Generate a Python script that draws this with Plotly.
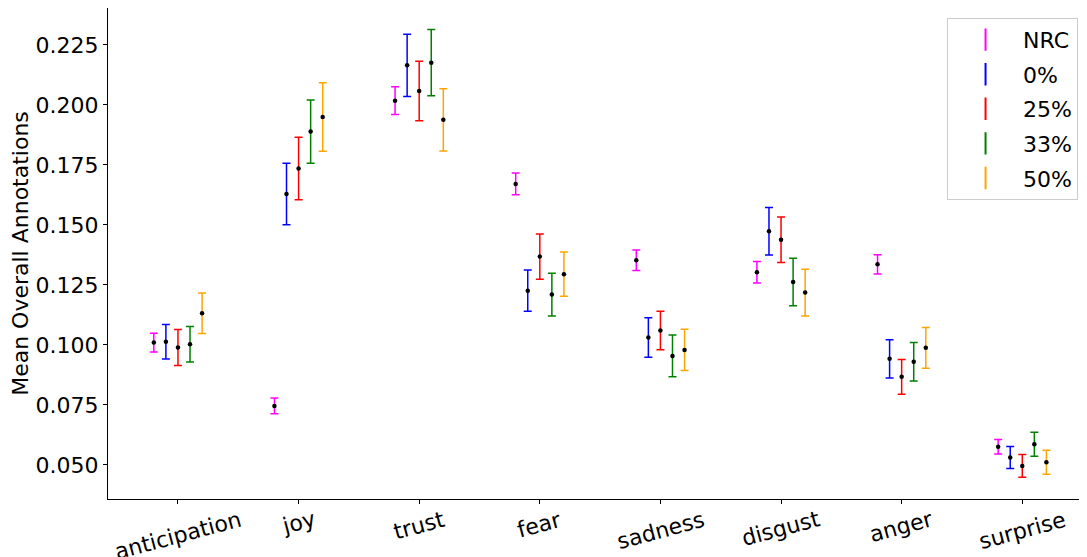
import plotly.graph_objects as go

categories = ["anticipation", "joy", "trust", "fear", "sadness", "disgust", "anger", "surprise"]
series_names = ["NRC", "0%", "25%", "33%", "50%"]

nrc_mean = [0.1010, 0.0746, 0.2018, 0.1671, 0.1353, 0.1303, 0.1336, 0.0576]
nrc_err = [0.0039, 0.0033, 0.0058, 0.0045, 0.0043, 0.0045, 0.0040, 0.0030]

p0_mean = [0.1013, 0.1629, 0.2165, 0.1226, 0.1031, 0.1474, 0.0942, 0.0531]
p0_err = [0.0072, 0.0128, 0.0130, 0.0086, 0.0082, 0.0099, 0.0080, 0.0046]

p25_mean = [0.0989, 0.1735, 0.2058, 0.1368, 0.1060, 0.1438, 0.0867, 0.0496]
p25_err = [0.0075, 0.0130, 0.0124, 0.0094, 0.0080, 0.0095, 0.0072, 0.0047]

p33_mean = [0.1003, 0.1889, 0.2176, 0.1210, 0.0954, 0.1262, 0.0930, 0.0586]
p33_err = [0.0074, 0.0132, 0.0138, 0.0089, 0.0087, 0.0099, 0.0080, 0.0050]

p50_mean = [0.1132, 0.1950, 0.1938, 0.1295, 0.0979, 0.1218, 0.0988, 0.0511]
p50_err = [0.0084, 0.0143, 0.0130, 0.0092, 0.0086, 0.0097, 0.0085, 0.0050]

means = [nrc_mean, p0_mean, p25_mean, p33_mean, p50_mean]
errs = [nrc_err, p0_err, p25_err, p33_err, p50_err]
colors = ["magenta", "blue", "red", "green", "orange"]

FONT = "DejaVu Sans"

fig = go.Figure()
for i, (name, m, e, c) in enumerate(zip(series_names, means, errs, colors)):
    off = (i - 2) * 0.1
    xs = [k + off for k in range(len(categories))]
    fig.add_trace(go.Scatter(
        x=xs, y=m, mode="markers", name=name, showlegend=False,
        marker=dict(color="black", size=4.5, symbol="circle"),
        error_y=dict(type="data", array=e, visible=True, color=c, thickness=1.5, width=4),
        cliponaxis=False,
    ))

# legend proxies
for name, c in zip(series_names, colors):
    fig.add_trace(go.Scatter(
        x=[None], y=[None], mode="markers", name=name, showlegend=True,
        legendgroup=name,
        marker=dict(symbol="line-ns-open", size=26, color=c, line=dict(color=c, width=2)),
    ))

# category labels, rotated and centred under their ticks
for k, cat in enumerate(categories):
    fig.add_annotation(
        x=k, xref="x", y=0, yref="paper", text=cat, showarrow=False,
        textangle=-15, xanchor="center", yanchor="top", yshift=-5,
        font=dict(family=FONT, size=22, color="black"),
    )

fig.update_layout(
    width=1087, height=557,
    margin=dict(l=100, r=10, t=0, b=66),
    paper_bgcolor="white", plot_bgcolor="white",
    font=dict(family=FONT, size=22, color="black"),
    legend=dict(
        x=0.8588, y=0.98, xanchor="left", yanchor="top",
        bgcolor="white", bordercolor="#cccccc", borderwidth=1,
        font=dict(family=FONT, size=22), itemsizing="trace", tracegroupgap=3,
        itemwidth=65,
    ),
)
fig.update_xaxes(
    range=[-0.58, 7.52], tickmode="array", tickvals=list(range(len(categories))),
    showticklabels=False, showgrid=False, zeroline=False,
    showline=True, linecolor="black", linewidth=1, mirror=True, automargin=False,
    ticks="outside", ticklen=4, tickcolor="black",
)
fig.update_yaxes(
    range=[0.0358, 0.2404], tickmode="array",
    tickvals=[0.05, 0.075, 0.1, 0.125, 0.15, 0.175, 0.2, 0.225],
    ticktext=["0.050", "0.075", "0.100", "0.125", "0.150", "0.175", "0.200", "0.225"],
    showgrid=False, zeroline=False, automargin=False,
    showline=True, linecolor="black", linewidth=1, mirror=True,
    ticks="outside", ticklen=4, tickcolor="black", tickfont=dict(family=FONT, size=22),
    title=dict(text="Mean Overall Annotations", font=dict(family=FONT, size=22), standoff=4),
)

fig.write_html("out.html")
